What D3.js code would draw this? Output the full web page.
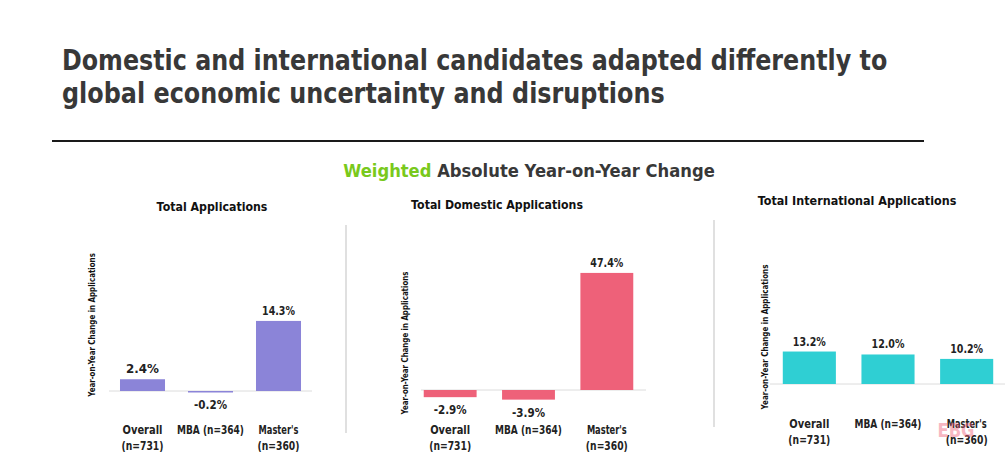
<!DOCTYPE html>
<html>
<head>
<meta charset="utf-8">
<script src="https://cdn.jsdelivr.net/npm/d3@7/dist/d3.min.js"></script>
<style>
  html, body { margin: 0; padding: 0; background: #fff; }
  svg { display: block; }
  text { font-family: "DejaVu Sans", Verdana, sans-serif; font-weight: bold; }
</style>
</head>
<body>
<svg id="chart" width="1005" height="459"></svg>
<script>
// ---------- DATA ----------
const titleLines = [
  "Domestic and international candidates adapted differently to",
  "global economic uncertainty and disruptions"
];
const subtitleAccent = "Weighted";
const subtitleRest = " Absolute Year-on-Year Change";
const yAxisTitle = "Year-on-Year Change in Applications";
const categories = ["Overall (n=731)", "MBA (n=364)", "Master's (n=360)"];
const categoryLines = [["Overall", "(n=731)"], ["MBA (n=364)"], ["Master's", "(n=360)"]];
const panelTitles = ["Total Applications", "Total Domestic Applications", "Total International Applications"];
const totalValues = [2.4, -0.2, 14.3];
const domesticValues = [-2.9, -3.9, 47.4];
const internationalValues = [13.2, 12.0, 10.2];
const seriesValues = [totalValues, domesticValues, internationalValues];

// ---------- LAYOUT ----------
const colors = ["#8b84d8", "#ee6179", "#2fcfd3"];
const panels = [
  { x0: 108.5, x1: 312.5, zeroY: 391, ppu: 4.9, pad: 0.338, base: [109, 312],
    title: { x: 212, y: 211, w: 111 }, yt: { x: 95, cy: 325, len: 144 }, catY: 434 },
  { x0: 411, x1: 646, zeroY: 390, ppu: 2.47, pad: 0.325, base: [421, 646],
    title: { x: 497, y: 209, w: 172 }, yt: { x: 408, cy: 343, len: 143 }, catY: 434 },
  { x0: 770, x1: 1006, zeroY: 384, ppu: 2.46, pad: 0.325, base: [770, 1005],
    title: { x: 857, y: 205, w: 199 }, yt: { x: 768, cy: 337, len: 145 }, catY: 428 }
];

const svg = d3.select("#chart");

// text placed in a group, horizontally scaled to fit the reference width
function label(parent, x, y, str, o) {
  const g = parent.append("g");
  const t = g.append("text").attr("x", 0).attr("y", 0)
    .attr("text-anchor", o.anchor || "middle")
    .attr("font-size", o.size).attr("fill", o.fill || "#222");
  if (Array.isArray(str)) {
    str.forEach(s => t.append("tspan").attr("fill", s.fill || null).text(s.text));
  } else t.text(str);
  const w = t.node().getComputedTextLength();
  const sx = o.maxW ? Math.min(1, o.maxW / w) : 1;
  g.attr("transform", `translate(${x},${y})${o.rotate ? " rotate(-90)" : ""} scale(${sx},1)`);
  return g;
}

// Main title
titleLines.forEach((t, i) => {
  label(svg, 62, i === 0 ? 70 : 103, t, { size: 29, fill: "#383838", anchor: "start", maxW: i === 0 ? 826 : 603 });
});

// Rule
svg.append("line").attr("x1", 52).attr("x2", 924).attr("y1", 141).attr("y2", 141)
  .attr("stroke", "#1a1a1a").attr("stroke-width", 2);

// Subtitle
label(svg, 529, 177, [{ text: subtitleAccent, fill: "#79c91c" }, { text: subtitleRest }],
  { size: 18, fill: "#383838", maxW: 372 });

// Dividers
[[346, 225, 433], [714, 220, 427]].forEach(d => {
  svg.append("line").attr("x1", d[0]).attr("x2", d[0]).attr("y1", d[1]).attr("y2", d[2])
    .attr("stroke", "#d6d6d6").attr("stroke-width", 1.5);
});

// Panels
panels.forEach((p, pi) => {
  const vals = seriesValues[pi];
  const g = svg.append("g");
  const x = d3.scaleBand().domain(categories).range([p.x0, p.x1])
    .paddingInner(p.pad).paddingOuter(p.pad / 2);
  const y = d3.scaleLinear().domain([0, 10]).range([p.zeroY, p.zeroY - 10 * p.ppu]);
  const cx = i => x(categories[i]) + x.bandwidth() / 2;

  // panel title
  label(g, p.title.x, p.title.y, panelTitles[pi], { size: 12, fill: "#111", maxW: p.title.w });

  // y-axis title
  label(g, p.yt.x, p.yt.cy, yAxisTitle, { size: 9, fill: "#111", maxW: p.yt.len, rotate: true });

  // baseline
  g.append("line").attr("x1", p.base[0]).attr("x2", p.base[1])
    .attr("y1", y(0)).attr("y2", y(0)).attr("stroke", "#dcdcdc").attr("stroke-width", 1);

  // bars
  g.selectAll("rect.bar").data(vals).join("rect").attr("class", "bar")
    .attr("x", (d, i) => x(categories[i]))
    .attr("width", x.bandwidth())
    .attr("y", d => Math.min(y(d), y(0)))
    .attr("height", d => Math.max(1.5, Math.abs(y(d) - y(0))))
    .attr("fill", colors[pi]);

  // value labels
  vals.forEach((d, i) => {
    label(g, cx(i), d >= 0 ? y(d) - 6 : y(d) + 17, d.toFixed(1) + "%",
      { size: 12.5, fill: "#222", maxW: 33 });
  });

  // category labels
  categoryLines.forEach((lines, i) => {
    lines.forEach((ln, li) => {
      label(g, cx(i), p.catY + li * 15.5, ln,
        { size: 12, fill: "#222", maxW: ln.length > 8 ? 67 : (ln.startsWith("(") ? 42 : 40) });
    });
  });
});

// Watermark
label(svg, 956, 437, "EBG", { size: 19, fill: "#ee6179", maxW: 37 }).attr("opacity", 0.45);
</script>
</body>
</html>
